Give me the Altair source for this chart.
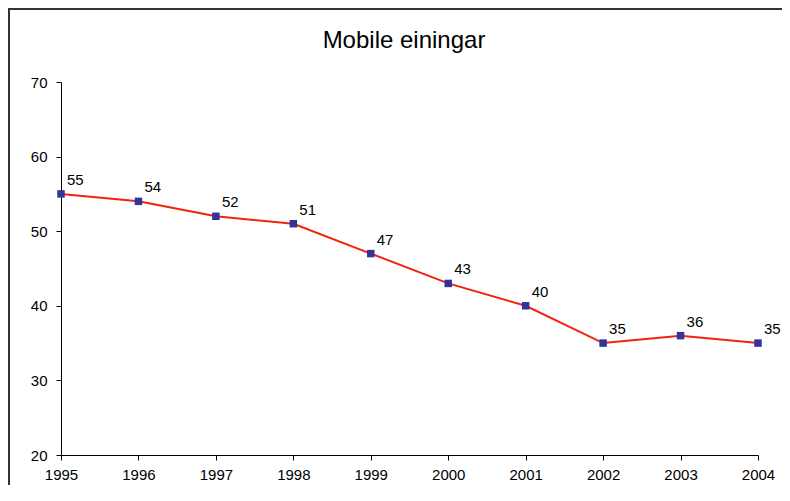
import altair as alt
import pandas as pd

title_text = "Mobile einingar"
years = [1995, 1996, 1997, 1998, 1999, 2000, 2001, 2002, 2003, 2004]
values = [55, 54, 52, 51, 47, 43, 40, 35, 36, 35]
y_ticks = [20, 30, 40, 50, 60, 70]

df = pd.DataFrame({"year": years, "value": values})

FONT = "Liberation Sans"

x_enc = alt.X("year:Q", scale=alt.Scale(domain=[1995, 2004], nice=False, zero=False),
              axis=alt.Axis(values=years, format="d", title=None, labelPadding=7, labelFlush=False))
y_enc = alt.Y("value:Q", scale=alt.Scale(domain=[20, 70], nice=False, zero=False),
              axis=alt.Axis(values=y_ticks, title=None, labelPadding=9, labelFlush=False))

base = alt.Chart(df)

line = base.mark_line(color="#f2220c", strokeWidth=2).encode(x=x_enc, y=y_enc)
pts = base.mark_point(shape="square", filled=True, size=56, color="#333399", opacity=1).encode(x="year:Q", y="value:Q")
labels = base.mark_text(align="left", baseline="alphabetic", dx=6, dy=-9,
                        fontSize=15, font=FONT, color="black").encode(
    x="year:Q", y="value:Q", text="value:Q")

one = pd.DataFrame({"t": [title_text]})
title = alt.Chart(one).mark_text(align="center", baseline="alphabetic", fontSize=24, font=FONT,
                                 color="black").encode(x=alt.value(343), y=alt.value(-34), text="t:N")

border_top = alt.Chart(one).mark_rule(color="#333333", strokeWidth=2).encode(
    x=alt.value(-53), x2=alt.value(721), y=alt.value(-73))
border_left = alt.Chart(one).mark_rule(color="#333333", strokeWidth=2).encode(
    x=alt.value(-52), y=alt.value(-74), y2=alt.value(420))

chart = alt.layer(line, pts, labels, title, border_top, border_left).properties(
    width=697,
    height=373,
    background="white",
    autosize=alt.AutoSizeParams(type="none"),
    padding={"left": 53, "top": 74, "right": 24, "bottom": 30},
).configure_view(stroke=None).configure_axis(
    grid=False, domainColor="black", tickColor="black", tickSize=5,
    labelFontSize=15, labelFont=FONT, labelColor="black", domainWidth=1,
)

chart.save("out.html", embed_options={"renderer": "svg", "actions": False})
